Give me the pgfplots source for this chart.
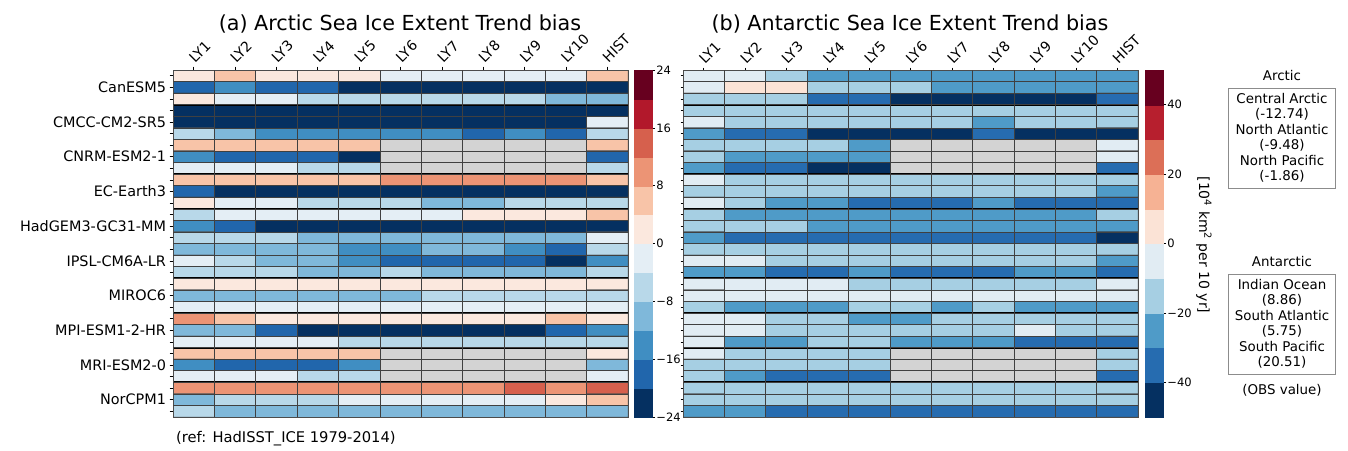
\documentclass[border=0pt]{standalone}
\usepackage{fontspec}
\setmainfont{DejaVu Sans}
\usepackage{pgfplots}
\pgfplotsset{compat=1.18}
\definecolor{nanc}{RGB}{211,211,211}
\pgfdeclareplotmark{cbA}{\pgfpathrectangle{\pgfpoint{-9pt}{-14.46pt}}{\pgfpoint{18pt}{28.92pt}}\pgfusepathqfillstroke}
\pgfdeclareplotmark{cbB}{\pgfpathrectangle{\pgfpoint{-9pt}{-17.35pt}}{\pgfpoint{18pt}{34.7pt}}\pgfusepathqfillstroke}
\pgfplotsset{
  hm/.style={
    anchor=south west, scale only axis, width=455pt, height=347pt,
    xmin=-0.5, xmax=10.5, ymin=-0.5, ymax=29.5, y dir=reverse,
    axis background/.style={fill=nanc},
    unbounded coords=jump,
    colormap access=piecewise constant,
    xtick={0,...,10}, xticklabels={LY1,LY2,LY3,LY4,LY5,LY6,LY7,LY8,LY9,LY10,HIST},
    xtick pos=right, xticklabel pos=right, ytick pos=left,
    tick align=outside, major tick length=3.5pt, minor tick length=3.5pt,
    every tick/.style={black, line width=0.6pt},
    xticklabel style={rotate=45, anchor=south west, inner sep=1pt, xshift=2pt, font=\fontsize{14}{16}\selectfont},
    yticklabel style={font=\fontsize{14.4}{16}\selectfont},
    axis line style={black!70, line width=0.8pt},
    extra x ticks={0.5,1.5,...,9.5}, extra x tick labels={},
    extra y ticks={0.5,1.5,...,28.5}, extra y tick labels={},
    extra tick style={major tick length=0pt, grid=major,
      major grid style={black!75, line width=0.5pt}},
    axis on top,
  },
  cbax/.style={
    anchor=south west, scale only axis, width=18pt, height=347pt,
    xmin=0, xmax=1, xtick=\empty,
    ytick pos=right, yticklabel pos=right,
    tick align=outside, major tick length=3pt,
    every tick/.style={black, line width=0.6pt},
    yticklabel style={font=\fontsize{11.5}{13}\selectfont, inner sep=1.2pt},
    axis line style={black, line width=0.6pt},
    colormap access=piecewise constant,
    axis on top, clip=false,
  },
  hmplot/.style={matrix plot*, mesh/cols=11, point meta=explicit,
    draw=black!75, line width=0.5pt},
  cbplot/.style={scatter, only marks, point meta=y,
    scatter/use mapped color={draw=mapped color, fill=mapped color},
    mark options={line width=0.3pt}},
  sep/.style={black, line width=1.8pt, forget plot},
  arcmap/.style={colormap={arc}{rgb255(0cm)=(5,48,97) rgb255(1cm)=(33,102,172) rgb255(2cm)=(64,142,194) rgb255(3cm)=(127,184,218) rgb255(4cm)=(184,216,233) rgb255(5cm)=(228,238,245) rgb255(6cm)=(251,232,222) rgb255(7cm)=(248,196,168) rgb255(8cm)=(236,148,117) rgb255(9cm)=(214,96,77) rgb255(10cm)=(178,24,43) rgb255(11cm)=(103,0,31) rgb255(12cm)=(103,0,31)},
    point meta min=-24, point meta max=24},
  antmap/.style={colormap={ant}{rgb255(0cm)=(5,48,97) rgb255(1cm)=(38,108,176) rgb255(2cm)=(79,155,200) rgb255(3cm)=(166,207,227) rgb255(4cm)=(225,236,243) rgb255(5cm)=(251,227,214) rgb255(6cm)=(246,178,148) rgb255(7cm)=(220,111,87) rgb255(8cm)=(183,31,46) rgb255(9cm)=(103,0,31) rgb255(10cm)=(103,0,31)},
    point meta min=-50, point meta max=50},
}
\begin{document}
\begin{tikzpicture}
\useasboundingbox (0,0) rectangle (1348pt,450pt);
% ---------------- (a) Arctic
\begin{axis}[hm, arcmap, at={(173pt,33pt)},
  ytick={1,4,...,28},
  yticklabels={CanESM5,CMCC-CM2-SR5,CNRM-ESM2-1,EC-Earth3,HadGEM3-GC31-MM,IPSL-CM6A-LR,MIROC6,MPI-ESM1-2-HR,MRI-ESM2-0,NorCPM1},
  minor ytick={0,...,29},
]
\addplot[hmplot]
 table[row sep=\\, header=false, x expr={\coordindex-11*floor((\coordindex+0.5)/11)}, y expr={floor((\coordindex+0.5)/11)}, meta index=0] {
2\\6\\2\\2\\2\\-2\\-2\\-2\\-2\\-2\\6\\
-18\\-14\\-18\\-18\\-22\\-22\\-22\\-22\\-22\\-22\\-22\\
2\\-2\\-2\\-6\\-6\\-6\\-6\\-6\\-6\\-10\\-10\\
-22\\-22\\-22\\-22\\-22\\-22\\-22\\-22\\-22\\-22\\-22\\
-22\\-22\\-22\\-22\\-22\\-22\\-22\\-22\\-22\\-22\\-2\\
-6\\-10\\-14\\-14\\-14\\-14\\-14\\-18\\-14\\-18\\-6\\
6\\6\\6\\6\\6\\nan\\nan\\nan\\nan\\nan\\6\\
-14\\-18\\-18\\-18\\-22\\nan\\nan\\nan\\nan\\nan\\-18\\
-2\\-2\\-2\\-6\\-6\\nan\\nan\\nan\\nan\\nan\\-6\\
6\\6\\6\\6\\6\\10\\10\\10\\10\\10\\6\\
-18\\-22\\-22\\-22\\-22\\-22\\-22\\-22\\-22\\-22\\-22\\
2\\-2\\-2\\-6\\-6\\-6\\-10\\-10\\-6\\-6\\-6\\
-6\\-2\\-2\\-2\\-2\\-2\\-2\\2\\2\\2\\6\\
-14\\-18\\-22\\-22\\-22\\-22\\-22\\-22\\-22\\-22\\-22\\
-6\\-6\\-6\\-10\\-10\\-10\\-10\\-10\\-10\\-10\\-2\\
-10\\-10\\-10\\-10\\-14\\-14\\-10\\-10\\-14\\-18\\-6\\
-2\\-6\\-10\\-10\\-14\\-18\\-18\\-18\\-18\\-22\\-14\\
-6\\-6\\-6\\-10\\-10\\-6\\-10\\-10\\-10\\-10\\-6\\
2\\2\\2\\2\\2\\2\\2\\2\\2\\2\\2\\
-10\\-10\\-10\\-10\\-10\\-10\\-6\\-6\\-6\\-6\\-6\\
-2\\-2\\-2\\-2\\-2\\-2\\-2\\-2\\-2\\-2\\-2\\
10\\6\\2\\2\\2\\2\\2\\2\\2\\6\\2\\
-10\\-10\\-18\\-22\\-22\\-22\\-22\\-22\\-22\\-18\\-14\\
-2\\-2\\-2\\-2\\-6\\-6\\-6\\-6\\-6\\-6\\-6\\
6\\6\\6\\6\\6\\nan\\nan\\nan\\nan\\nan\\2\\
-14\\-18\\-18\\-18\\-14\\nan\\nan\\nan\\nan\\nan\\-10\\
-2\\-2\\-2\\-6\\-6\\nan\\nan\\nan\\nan\\nan\\-2\\
10\\10\\10\\10\\10\\10\\10\\10\\14\\10\\14\\
-10\\-6\\-6\\-6\\-2\\-2\\-2\\-2\\-2\\2\\6\\
-6\\-10\\-10\\-10\\-10\\-10\\-10\\-10\\-10\\-10\\-10\\
};
\pgfplotsinvokeforeach{2.5,5.5,8.5,11.5,14.5,17.5,20.5,23.5,26.5}{
  \addplot[sep] coordinates {(-0.5,#1) (10.5,#1)};
}
\end{axis}
% colorbar (a)
\begin{axis}[cbax, arcmap, at={(634pt,33pt)}, ymin=-24, ymax=24,
  ytick={-24,-16,-8,0,8,16,24}, yticklabels={−24,−16,−8,0,8,16,24}]
\addplot[cbplot, mark=cbA] coordinates {(0.5,-22) (0.5,-18) (0.5,-14) (0.5,-10) (0.5,-6) (0.5,-2) (0.5,2) (0.5,6) (0.5,10) (0.5,14) (0.5,18) (0.5,22)};
\end{axis}
% ---------------- (b) Antarctic
\begin{axis}[hm, antmap, at={(683pt,33pt)},
  ytick={0,...,29}, yticklabels={}, major tick length=2.5pt,
]
\addplot[hmplot]
 table[row sep=\\, header=false, x expr={\coordindex-11*floor((\coordindex+0.5)/11)}, y expr={floor((\coordindex+0.5)/11)}, meta index=0] {
-5\\-5\\-15\\-25\\-25\\-25\\-25\\-25\\-25\\-25\\-25\\
-5\\5\\5\\-15\\-15\\-15\\-25\\-25\\-25\\-25\\-25\\
-15\\-15\\-15\\-35\\-35\\-45\\-45\\-45\\-45\\-45\\-35\\
-15\\-15\\-15\\-15\\-15\\-15\\-15\\-15\\-15\\-15\\-15\\
-5\\-15\\-15\\-15\\-15\\-15\\-15\\-25\\-15\\-15\\-15\\
-25\\-35\\-35\\-45\\-45\\-45\\-45\\-35\\-45\\-45\\-45\\
-15\\-15\\-15\\-15\\-25\\nan\\nan\\nan\\nan\\nan\\-5\\
-15\\-25\\-25\\-25\\-25\\nan\\nan\\nan\\nan\\nan\\-5\\
-25\\-35\\-35\\-45\\-45\\nan\\nan\\nan\\nan\\nan\\-35\\
-5\\-15\\-15\\-15\\-15\\-15\\-15\\-15\\-15\\-15\\-15\\
-15\\-15\\-15\\-15\\-15\\-15\\-15\\-15\\-15\\-15\\-25\\
-5\\-15\\-25\\-25\\-35\\-35\\-35\\-25\\-35\\-35\\-35\\
-15\\-25\\-25\\-25\\-25\\-25\\-25\\-25\\-25\\-25\\-15\\
-15\\-15\\-15\\-25\\-25\\-25\\-25\\-25\\-25\\-25\\-25\\
-25\\-35\\-35\\-35\\-35\\-35\\-35\\-35\\-35\\-35\\-45\\
-15\\-15\\-15\\-15\\-15\\-15\\-15\\-15\\-15\\-15\\-15\\
-5\\-5\\-15\\-15\\-15\\-15\\-15\\-15\\-15\\-15\\-25\\
-25\\-25\\-35\\-35\\-25\\-35\\-35\\-35\\-25\\-25\\-35\\
-5\\-5\\-5\\-5\\-15\\-15\\-15\\-15\\-15\\-15\\-5\\
-5\\-5\\-5\\-5\\-5\\-5\\-5\\-5\\-5\\-5\\-5\\
-15\\-25\\-25\\-25\\-15\\-15\\-25\\-15\\-25\\-25\\-25\\
-5\\-5\\-15\\-15\\-25\\-25\\-15\\-15\\-15\\-15\\-15\\
-5\\-5\\-15\\-15\\-15\\-15\\-15\\-15\\-5\\-15\\-15\\
-5\\-25\\-25\\-15\\-15\\-25\\-25\\-25\\-35\\-35\\-35\\
-5\\-15\\-15\\-15\\-15\\nan\\nan\\nan\\nan\\nan\\-15\\
-15\\-15\\-15\\-15\\-15\\nan\\nan\\nan\\nan\\nan\\-15\\
-15\\-25\\-35\\-35\\-35\\nan\\nan\\nan\\nan\\nan\\-35\\
-15\\-15\\-15\\-15\\-15\\-15\\-15\\-15\\-15\\-15\\-15\\
-15\\-15\\-15\\-15\\-15\\-15\\-15\\-15\\-15\\-15\\-15\\
-25\\-25\\-35\\-35\\-35\\-35\\-35\\-35\\-35\\-35\\-35\\
};
\pgfplotsinvokeforeach{2.5,5.5,8.5,11.5,14.5,17.5,20.5,23.5,26.5}{
  \addplot[sep] coordinates {(-0.5,#1) (10.5,#1)};
}
\end{axis}
% colorbar (b)
\begin{axis}[cbax, antmap, at={(1145pt,33pt)}, ymin=-50, ymax=50,
  ytick={-40,-20,0,20,40}, yticklabels={−40,−20,0,20,40}]
\addplot[cbplot, mark=cbB] coordinates {(0.5,-45) (0.5,-35) (0.5,-25) (0.5,-15) (0.5,-5) (0.5,5) (0.5,15) (0.5,25) (0.5,35) (0.5,45)};
\end{axis}
\node[rotate=-90, font=\fontsize{14}{16}\selectfont] at (1204pt,205pt) {[10\textsuperscript{4} km\textsuperscript{2} per 10 yr]};
% titles and notes
\node[anchor=base, font=\fontsize{20.7}{24}\selectfont] at (400pt,419pt) {(a) Arctic Sea Ice Extent Trend bias};
\node[anchor=base, font=\fontsize{20.7}{24}\selectfont] at (910pt,419pt) {(b) Antarctic Sea Ice Extent Trend bias};
\node[anchor=base west, inner sep=0pt, font=\fontsize{14.7}{17}\selectfont] at (176pt,8pt) {(ref: HadISST\_ICE 1979-2014)};
\node[font=\fontsize{13.4}{15.5}\selectfont] at (1282pt,374pt) {Arctic};
\node[draw=black!45, line width=0.6pt, align=center, minimum width=107pt, minimum height=100pt, inner sep=2pt, font=\fontsize{13.4}{15.5}\selectfont] at (1282pt,312pt) {Central Arctic\\(-12.74)\\North Atlantic\\(-9.48)\\North Pacific\\(-1.86)};
\node[font=\fontsize{13.4}{15.5}\selectfont] at (1282pt,188pt) {Antarctic};
\node[draw=black!45, line width=0.6pt, align=center, minimum width=107pt, minimum height=100pt, inner sep=2pt, font=\fontsize{13.4}{15.5}\selectfont] at (1282pt,126pt) {Indian Ocean\\(8.86)\\South Atlantic\\(5.75)\\South Pacific\\(20.51)};
\node[font=\fontsize{13.4}{15.5}\selectfont] at (1282pt,60pt) {(OBS value)};
\end{tikzpicture}
\end{document}
